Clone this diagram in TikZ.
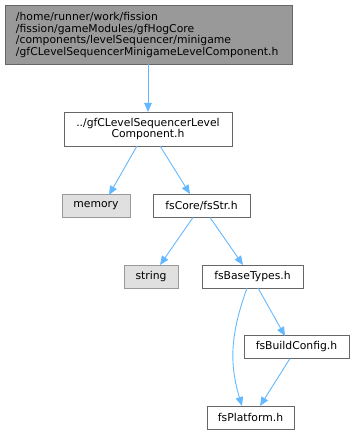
\documentclass[tikz,border=0pt]{standalone}
\usepackage{fontspec}
\setmainfont{DejaVu Sans}
\usetikzlibrary{arrows.meta}
\definecolor{edgec}{HTML}{63B8FF}
\definecolor{bord}{HTML}{666666}
\definecolor{topfill}{HTML}{999999}
\definecolor{sysfill}{HTML}{E0E0E0}
\definecolor{sysbord}{HTML}{999999}
\begin{document}
\begin{tikzpicture}[x=1pt,y=-1pt,
  every node/.style={font=\fontsize{10.8}{11.6}\selectfont, inner sep=0pt, outer sep=0pt},
  filebox/.style={draw=bord, fill=white, line width=0.9pt},
  topbox/.style={draw=bord, fill=topfill, line width=0.9pt},
  sysbox/.style={draw=sysbord, fill=sysfill, line width=0.9pt},
  conn/.style={draw=edgec, line width=0.9pt, -{Triangle[length=9pt,width=7.5pt]}}]
\useasboundingbox (0,0) rectangle (354,435);
\node[topbox, minimum width=287pt, minimum height=59pt, anchor=north west] (top) at (5,5) {};
\node[anchor=west, align=left] (toptext) at (16,35) {/home/runner/work/fission\\/fission/gameModules/gfHogCore\\/components/levelSequencer/minigame\\/gfCLevelSequencerMinigameLevelComponent.h};
\node[filebox, minimum width=168pt, minimum height=34pt, align=center] (lvl) at (148,129) {../gfCLevelSequencerLevel\\Component.h};
\node[sysbox, minimum width=68pt, minimum height=23pt] (mem) at (96,206) {memory};
\node[filebox, minimum width=97pt, minimum height=23pt] (str) at (201.5,206) {fsCore/fsStr.h};
\node[sysbox, minimum width=54pt, minimum height=23pt] (string) at (151,276.5) {string};
\node[filebox, minimum width=101pt, minimum height=23pt] (base) at (252.5,276.5) {fsBaseTypes.h};
\node[filebox, minimum width=105pt, minimum height=23pt] (build) at (296.5,347) {fsBuildConfig.h};
\node[filebox, minimum width=87pt, minimum height=23pt] (plat) at (250.5,417.5) {fsPlatform.h};
\draw[conn] (148,64) -- (lvl.north);
\draw[conn] (137,146) -- (109,195);
\draw[conn] (160,146) -- (190,194);
\draw[conn] (193,217.5) -- (160,265);
\draw[conn] (210,217.5) -- (243,265);
\draw[conn] (247,288) .. controls (232,330) and (228,360) .. (242,406);
\draw[conn] (258,288) -- (285,336);
\draw[conn] (290,358.5) -- (260,406);
\end{tikzpicture}
\end{document}
